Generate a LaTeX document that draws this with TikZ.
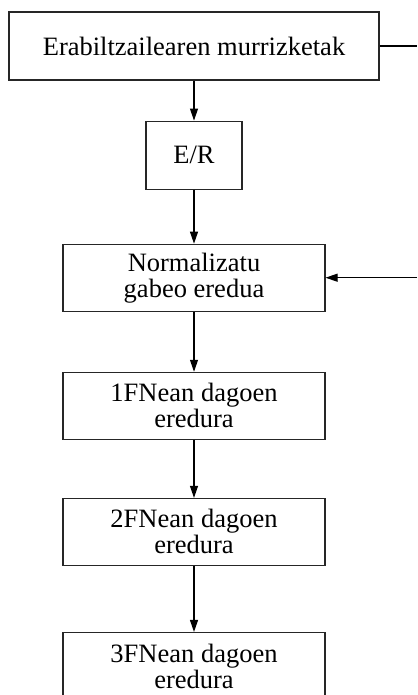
\documentclass[tikz,border=0pt]{standalone}
\usepackage{fontspec}
\setmainfont{Liberation Serif}
\usetikzlibrary{positioning, arrows.meta}

\begin{document}
\begin{tikzpicture}[x=1pt, y=1pt, line width=1.1pt, >={Triangle[width=8pt,length=12pt]},
	box/.style = {draw=black!85, rectangle, align=center, font=\fontsize{26.5}{26}\selectfont, inner sep=2pt},
	wide/.style = {box, minimum width=262pt, minimum height=67pt}]
	\useasboundingbox (0,0) rectangle (417,-695);
	\coordinate (rim) at (417,0);

	\node[box, minimum width=370pt, minimum height=68pt] (req) at (194,-46) {Erabiltzailearen murrizketak};
	\node[box, minimum width=96pt, minimum height=68pt] (er) [below=40pt of req] {E/R};
	\node[wide] (norm) [below=54pt of er] {Normalizatu\\gabeo eredua};
	\node[wide] (fn1) [below=60pt of norm] {1FNean dagoen\\eredura};
	\node[wide] (fn2) [below=58pt of fn1] {2FNean dagoen\\eredura};
	\node[wide] (fn3) [below=66pt of fn2] {3FNean dagoen\\eredura};

	\draw[->] (req) -- (er);
	\draw[->] (er) -- (norm);
	\draw[->] (norm) -- (fn1);
	\draw[->] (fn1) -- (fn2);
	\draw[->] (fn2) -- (fn3);

	% side branch running off to the right
	\draw (req.east) -- (req.east -| rim);
	\draw[->] (norm.east -| rim) -- (norm.east);
\end{tikzpicture}
\end{document}
